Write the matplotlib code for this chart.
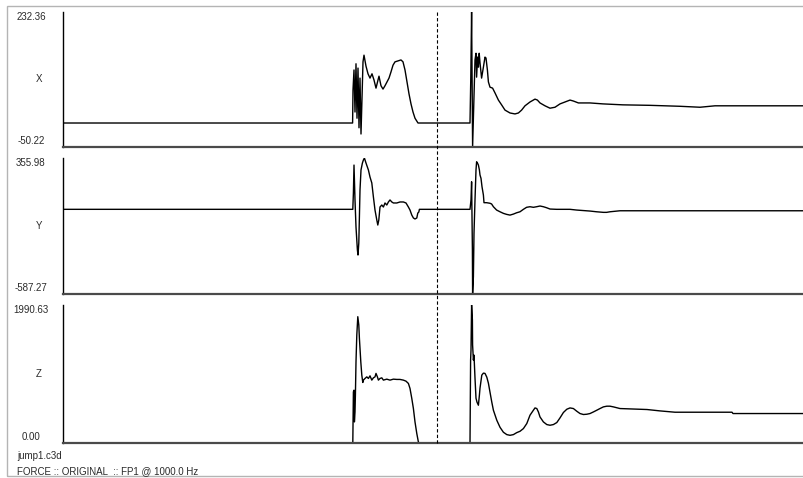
import matplotlib.pyplot as plt
import matplotlib.transforms as mtransforms
from matplotlib.patches import Rectangle

plt.rcParams['font.family'] = ['Liberation Sans', 'DejaVu Sans']

# force plate FP1, sampled at 1000 Hz -> x axis is the frame number
x_frames = [0, 1448, 1450, 1455, 1460, 1465, 1470, 1475, 1480, 1485, 1490, 1495,
            1500, 1505, 1515, 1525, 1535, 1545, 1555, 1565, 1575, 1580, 1590, 1600,
            1610, 1620, 1630, 1640, 1650, 1660, 1675, 1690, 1700, 1710, 1720, 1730,
            1740, 1750, 1760, 1775, 2035, 2039, 2043, 2048, 2060, 2065, 2068, 2073,
            2077, 2081, 2085, 2093, 2102, 2110, 2115, 2122, 2127, 2135, 2148, 2160,
            2177, 2193, 2210, 2235, 2260, 2277, 2293, 2310, 2335, 2360, 2372, 2385,
            2410, 2435, 2460, 2485, 2510, 2535, 2552, 2577, 2635, 2700, 2800, 2935,
            3085, 3185, 3260, 3705]
x_force = [0, 0, 69, 111, 23, 124, 10, 115, -10, 94, -23, 52,
           128, 142, 119, 103, 94, 103, 90, 73, 90, 98, 78, 71,
           78, 86, 94, 107, 121, 128, 130, 132, 128, 111, 86, 61,
           40, 23, 10, 0, 0, 96, 232.36, -50.22, 132, 146, 96, 138,
           117, 146, 126, 94, 117, 138, 136, 111, 86, 75, 73, 63,
           48, 38, 27, 21, 19, 21, 27, 36, 44, 50, 48, 42,
           36, 31, 33, 40, 44, 48, 46, 42, 42, 40, 38, 37,
           35, 33, 36, 36]

y_frames = [0, 1449, 1452, 1455, 1460, 1465, 1472, 1475, 1479, 1482, 1485, 1490,
            1497, 1502, 1507, 1515, 1527, 1535, 1544, 1552, 1560, 1569, 1574, 1579,
            1585, 1594, 1602, 1610, 1619, 1627, 1635, 1644, 1652, 1669, 1685, 1702,
            1715, 1727, 1735, 1744, 1752, 1760, 1769, 1774, 1779, 1782, 2035, 2040,
            2043, 2047, 2048, 2052, 2055, 2060, 2065, 2068, 2073, 2077, 2082, 2085,
            2090, 2095, 2102, 2105, 2118, 2135, 2143, 2152, 2168, 2185, 2202, 2218,
            2235, 2252, 2268, 2285, 2302, 2318, 2335, 2352, 2368, 2385, 2402, 2418,
            2435, 2468, 2535, 2568, 2635, 2668, 2702, 2718, 2735, 2785, 3100, 3705]
y_force = [0, 0, 113, 307, 65, -123, -282, -317, -234, -53, 134, 273,
           321, 342, 355.98, 321, 273, 224, 183, 86, -5, -74, -109, -74,
           16, 30, 16, 44, 30, 51, 65, 51, 44, 44, 51, 51,
           44, 16, -5, -40, -60, -67, -60, -26, -19, 0, 0, 65,
           191, -282, -587.27, -467, -166, 65, 273, 330, 319, 307, 273, 238,
           215, 157, 99, 46, 46, 42, 37, 18, -5, -17, -28, -35,
           -40, -33, -24, -17, 0, 14, 18, 14, 18, 23, 18, 11,
           2, 0, 0, -5, -12, -17, -21, -21, -17, -10, -10, -10]

z_frames = [0, 1449, 1452, 1455, 1457, 1460, 1462, 1465, 1469, 1474, 1479, 1482,
            1489, 1494, 1499, 1502, 1510, 1519, 1527, 1535, 1544, 1552, 1560, 1565,
            1572, 1577, 1585, 1594, 1602, 1619, 1635, 1652, 1669, 1685, 1702, 1715,
            1727, 1735, 1744, 1752, 1760, 1769, 1777, 1782, 2035, 2038, 2040, 2043,
            2047, 2048, 2052, 2055, 2060, 2065, 2070, 2077, 2082, 2085, 2094, 2102,
            2110, 2119, 2127, 2135, 2144, 2152, 2169, 2185, 2202, 2219, 2235, 2252,
            2269, 2285, 2302, 2319, 2335, 2352, 2360, 2369, 2377, 2385, 2402, 2419,
            2435, 2452, 2469, 2485, 2502, 2519, 2535, 2552, 2569, 2585, 2602, 2619,
            2635, 2652, 2669, 2685, 2702, 2719, 2735, 2752, 2785, 2920, 2985, 3060,
            3345, 3350, 3705]
z_force = [0, 0, 737, 762, 304, 448, 690, 1171, 1557, 1822, 1702, 1510,
           1171, 979, 873, 907, 931, 954, 931, 969, 907, 940, 954, 1004,
           954, 907, 931, 940, 907, 921, 907, 921, 917, 917, 907, 892,
           859, 787, 642, 497, 304, 136, 14, 0, 0, 1196, 1340, 1990.63,
           1774, 1413, 1196, 1268, 936, 646, 589, 545, 690, 791, 979, 1008,
           1004, 950, 863, 733, 589, 473, 328, 227, 155, 121, 111, 121,
           150, 169, 208, 281, 401, 473, 506, 497, 448, 376, 304, 266,
           256, 266, 295, 362, 440, 487, 506, 497, 458, 425, 411, 415,
           425, 448, 473, 497, 521, 531, 531, 521, 497, 483, 463, 444,
           444, 425, 425]

channel_names = ['X', 'Y', 'Z']
channel_min = [-50.22, -587.27, 0.00]
channel_max = [232.36, 355.98, 1990.63]
n_frames = 3705
event_frame = 1870

file_name = 'jump1.c3d'
caption = 'FORCE :: ORIGINAL  :: FP1 @ 1000.0 Hz'

W, H = 804, 478
fig = plt.figure(figsize=(W / 100, H / 100), dpi=100)
fig.patch.set_facecolor('white')


def box(left, top, right, bottom):
    # pixel box -> figure fraction [l, b, w, h]
    return [left / W, 1 - bottom / H, (right - left) / W, (bottom - top) / H]


# window frame
fig.add_artist(Rectangle((7 / W, 2 / H), 1.0, 1 - 8 / H, transform=fig.transFigure,
                         fill=False, edgecolor='#b4b4b4', lw=1))

panel_rows = [(12, 147), (158, 294), (305, 443)]
series = [(x_frames, x_force), (y_frames, y_force), (z_frames, z_force)]
txt = dict(fontsize=7, color='#2a2a2a', ha='center', va='center')

axes = []
for i, (top, bottom) in enumerate(panel_rows):
    ax = fig.add_axes(box(63, top, W, bottom))
    frames, force = series[i]
    ax.plot(frames, force, color='black', lw=1.0)
    ax.set_xlim(0, n_frames)
    ax.set_ylim(channel_min[i], channel_max[i])
    ax.set_xticks([])
    ax.set_yticks([])
    ax.spines['top'].set_visible(False)
    ax.spines['right'].set_visible(False)
    ax.spines['left'].set_color('black')
    ax.spines['left'].set_linewidth(1.0)
    ax.spines['bottom'].set_color('#4a4a4a')
    ax.spines['bottom'].set_linewidth(1.6)
    ax.patch.set_alpha(0)

    fig.text(31 / W, 1 - (top + 5) / H, '%.2f' % channel_max[i], **txt)
    fig.text(39 / W, 1 - ((top + bottom) / 2) / H, channel_names[i], **txt)
    fig.text(31 / W, 1 - (bottom - 6) / H, '%.2f' % channel_min[i], **txt)
    axes.append(ax)

# event marker through all three panels
trans = mtransforms.blended_transform_factory(axes[2].transData, fig.transFigure)
fig.add_artist(plt.Line2D([event_frame, event_frame], [1 - 12 / H, 1 - 443 / H],
                          transform=trans, color='black', lw=0.8,
                          linestyle=(0, (3, 2))))

fig.text(17 / W, 1 - 456 / H, file_name, fontsize=7, color='#2a2a2a', ha='left', va='center')
fig.text(17 / W, 1 - 471 / H, caption, fontsize=7, color='#2a2a2a', ha='left', va='center')

fig.savefig('out.png', dpi=100, facecolor='white')
